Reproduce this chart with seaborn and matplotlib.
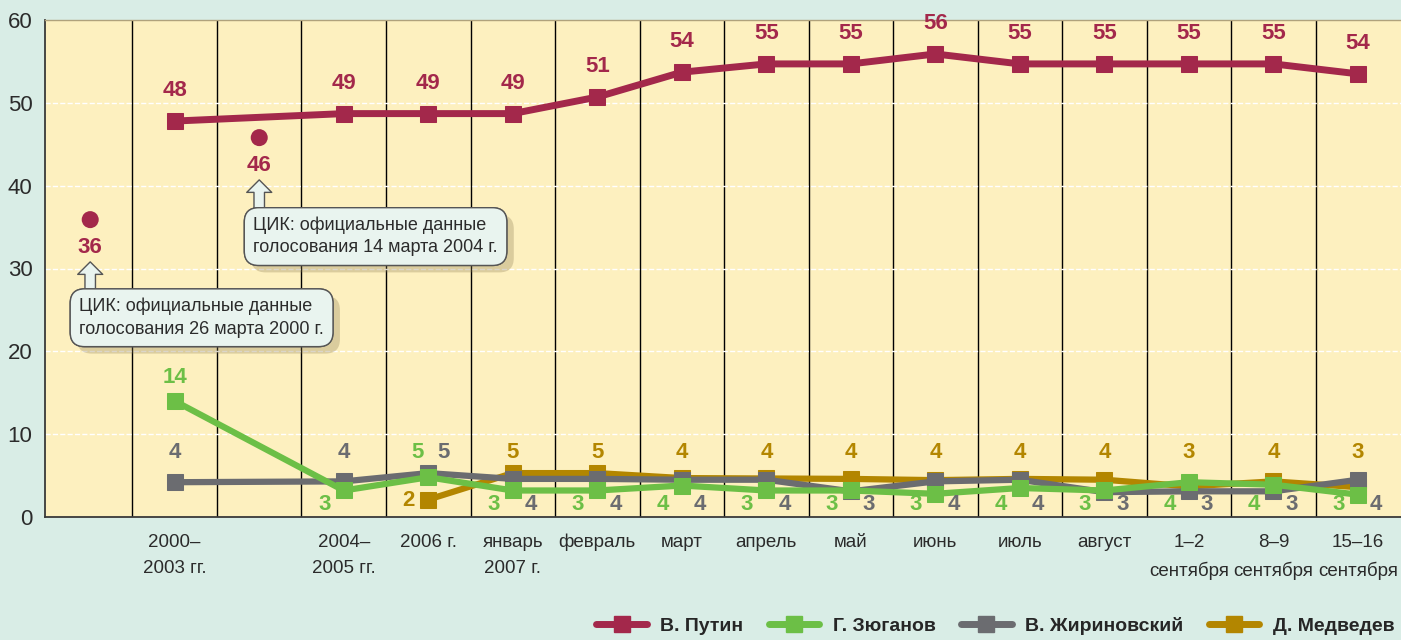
import matplotlib
matplotlib.use("Agg")
import matplotlib.pyplot as plt
import matplotlib.patheffects as pe
from matplotlib.lines import Line2D
import seaborn as sns

# categories on the x axis (empty slots hold the official CIK results)
categories = ["", "2000–\n2003 гг.", "", "2004–\n2005 гг.", "2006 г.", "январь\n2007 г.",
              "февраль", "март", "апрель", "май", "июнь", "июль", "август",
              "1–2\nсентября", "8–9\nсентября", "15–16\nсентября"]

# poll series
poll_x = [1, 3, 4, 5, 6, 7, 8, 9, 10, 11, 12, 13, 14, 15]
putin_y = [47.8, 48.7, 48.7, 48.7, 50.7, 53.7, 54.7, 54.7, 55.9, 54.7, 54.7, 54.7, 54.7, 53.5]
putin_lbl = [48, 49, 49, 49, 51, 54, 55, 55, 56, 55, 55, 55, 55, 54]

zyug_y = [14.0, 3.2, 4.8, 3.2, 3.2, 3.8, 3.2, 3.2, 2.8, 3.5, 3.2, 4.2, 3.9, 2.7]
zyug_lbl = [14, 3, 5, 3, 3, 4, 3, 3, 3, 4, 3, 4, 4, 3]

zhir_y = [4.2, 4.3, 5.3, 4.6, 4.6, 4.5, 4.5, 3.1, 4.3, 4.5, 3.0, 3.1, 3.1, 4.5]
zhir_lbl = [4, 4, 5, 4, 4, 4, 4, 3, 4, 4, 3, 3, 3, 4]

medv_x = [4, 5, 6, 7, 8, 9, 10, 11, 12, 13, 14, 15]
medv_y = [2.1, 5.3, 5.3, 4.7, 4.65, 4.6, 4.45, 4.6, 4.5, 3.7, 4.3, 3.6]
medv_lbl = [2, 5, 5, 4, 4, 4, 4, 4, 4, 3, 4, 3]

# official CIK election results for Putin
cik_x = [0, 2]
cik_y = [35.9, 45.8]
cik_lbl = [36, 46]
cik_notes = ["ЦИК: официальные данные\nголосования 26 марта 2000 г.",
             "ЦИК: официальные данные\nголосования 14 марта 2004 г."]

c_putin = "#a3284b"
c_zyug = "#6cbf46"
c_zhir = "#6b6c70"
c_medv = "#b38600"

sns.set_style("white")
fam = ["Liberation Sans", "DejaVu Sans"]
plt.rcParams["font.family"] = fam

fig, ax = plt.subplots(figsize=(14.01, 6.4), dpi=100)
fig.patch.set_facecolor("#d9ede6")
ax.set_facecolor("#fdf0bf")
fig.subplots_adjust(left=45/1401, right=1.0, top=1-20/640, bottom=1-517/640)

# column separators and dashed white grid
ax.vlines([i + 0.5 for i in range(len(categories) - 1)], 0, 60, color="black", lw=1, zorder=1)
for v in range(10, 60, 10):
    ax.axhline(v, color="white", ls="--", lw=1, zorder=1)

sns.lineplot(x=medv_x, y=medv_y, color=c_medv, lw=4.5, marker="s", ms=11.5, mec=c_medv, ax=ax, zorder=3)
sns.lineplot(x=poll_x, y=zhir_y, color=c_zhir, lw=4.5, marker="s", ms=11.5, mec=c_zhir, ax=ax, zorder=4)
sns.lineplot(x=poll_x, y=zyug_y, color=c_zyug, lw=4.5, marker="s", ms=11.5, mec=c_zyug, ax=ax, zorder=5)
sns.lineplot(x=poll_x, y=putin_y, color=c_putin, lw=5, marker="s", ms=12, mec=c_putin, ax=ax, zorder=6)
sns.scatterplot(x=cik_x, y=cik_y, color=c_putin, s=150, edgecolor="none", ax=ax, zorder=6)

lbl_kw = dict(fontsize=16, fontweight="bold", ha="center", va="center", zorder=8)

def put(x, y, s, color, dx=0, dy=0):
    ax.annotate(str(s), (x, y), xytext=(dx, dy), textcoords="offset points", color=color, **lbl_kw)

LOW, HIGH = 1.45, 7.8
for x, y, s in zip(poll_x, putin_y, putin_lbl):
    put(x, y, s, c_putin, dy=22)
for x, y, s in zip(cik_x, cik_y, cik_lbl):
    put(x, y, s, c_putin, dy=-20)
for x, y, s in zip(poll_x, zyug_y, zyug_lbl):
    if x == 1:
        put(x, y, s, c_zyug, dy=17)
    elif x == 4:
        put(x, HIGH, s, c_zyug, dx=-8)
    else:
        put(x, LOW, s, c_zyug, dx=-14)
for x, y, s in zip(poll_x, zhir_y, zhir_lbl):
    if x in (1, 3):
        put(x, HIGH, s, c_zhir)
    elif x == 4:
        put(x, HIGH, s, c_zhir, dx=11)
    else:
        put(x, LOW, s, c_zhir, dx=13)
for x, y, s in zip(medv_x, medv_y, medv_lbl):
    if x == 4:
        put(x, 2.05, s, c_medv, dx=-14)
    else:
        put(x, HIGH, s, c_medv)

# callouts for the official results
box_fc = "#e9f4ef"
for (tx, ty), (ax0, y0, y1), note in zip([(-0.13, 26.45), (1.93, 36.25)],
                                          [(0, 27.8, 30.8), (2, 37.6, 40.7)], cik_notes):
    ax.annotate("", xy=(ax0, y1), xytext=(ax0, y0 - 0.4),
                arrowprops=dict(arrowstyle="simple,head_length=0.5,head_width=1.0,tail_width=0.42",
                                mutation_scale=18, fc=box_fc, ec="#555555", lw=1,
                                shrinkA=0, shrinkB=0), zorder=9)
    t = ax.text(tx, ty, note, fontsize=13, color="#2b2b2b", ha="left", va="top", linespacing=1.4,
                zorder=10, bbox=dict(boxstyle="round,pad=0.5,rounding_size=0.8", fc=box_fc,
                                     ec="#555555", lw=1))
    t.get_bbox_patch().set_path_effects([pe.withSimplePatchShadow(offset=(5, -5), shadow_rgbFace="#8a7a50", alpha=0.3),
                                         pe.Normal()])

ax.set_xlim(-0.535, 15.51)
ax.set_ylim(0, 60)
ax.set_xticks(range(len(categories)))
ax.set_xticklabels(categories, fontsize=13.5, color="#2b2b2b", linespacing=1.75)
ax.set_yticks(range(0, 61, 10))
ax.tick_params(axis="y", labelsize=16, colors="#2b2b2b", length=0, pad=9)
ax.tick_params(axis="x", length=0, pad=12)
ax.set_xlabel("")
ax.set_ylabel("")
for sp in ("left", "bottom"):
    ax.spines[sp].set_visible(True)
    ax.spines[sp].set_color("#3a3a3a")
    ax.spines[sp].set_linewidth(1.3)
ax.spines["top"].set_visible(True)
ax.spines["top"].set_color("#b0a27c")
ax.spines["top"].set_linewidth(1)
ax.spines["right"].set_visible(False)

handles = [Line2D([0], [0], color=c, lw=5, marker="s", ms=11) for c in (c_putin, c_zyug, c_zhir, c_medv)]
fig.legend(handles, ["В. Путин", "Г. Зюганов", "В. Жириновский", "Д. Медведев"],
           loc="lower right", bbox_to_anchor=(1.008, -0.019), ncol=4, frameon=False,
           handlelength=2.6, handletextpad=0.7, columnspacing=1.3,
           prop=dict(family=fam, weight="bold", size=14))

fig.savefig("out.png", dpi=100, facecolor=fig.get_facecolor())
